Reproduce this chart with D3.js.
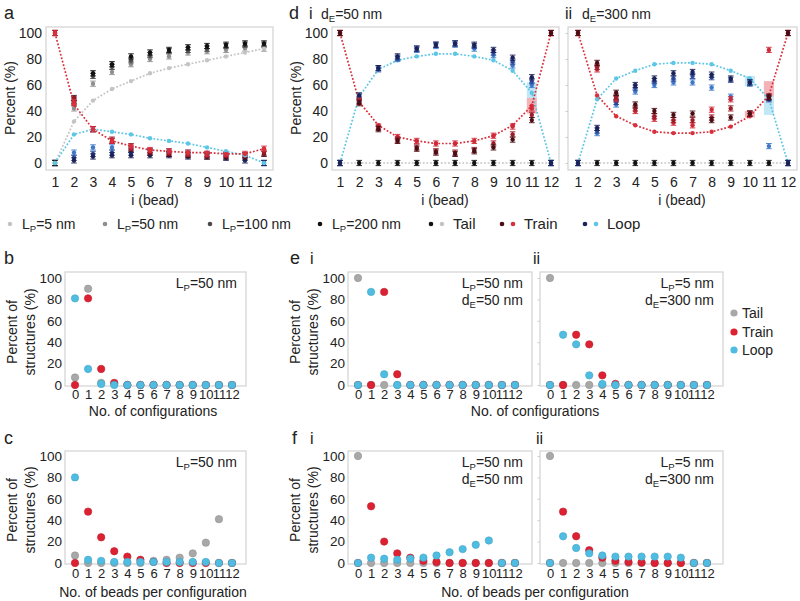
<!DOCTYPE html>
<html><head><meta charset="utf-8">
<script src="https://cdn.jsdelivr.net/npm/d3@7"></script>
<style>
body{margin:0;background:#fff;}
svg{font-family:"Liberation Sans",Arial,Helvetica,sans-serif;}
</style></head><body>
<svg id="c" width="800" height="601"></svg>
<script>
// ---------------- DATA ----------------
const beads = [1,2,3,4,5,6,7,8,9,10,11,12];
const configs = [0,1,2,3,4,5,6,7,8,9,10,11,12];
const yTicks = [0,20,40,60,80,100];

// panel a (LP=5 nm shown as dotted lines, other LP as markers)
const aTail5   = [0,32,48,57,63,69,73,76,79,82,85,88];
const aTrain5  = [100,45,26,17,13,10,9,8,8,7,7,11];
const aLoop5   = [0,22,26,24,22,19,17,15,12,9,6,0];
const aTail50  = [0,42,61,70,76,80,82,85,86,87,88,88];
const aTail100 = [0,46,67,74,79,83,86,87,88,90,91,91];
const aTail200 = [0,48,69,76,82,85,87,89,90,91,92,92];
const aTrain50  = [100,47,26,17,12,10,9,8,7,7,7,11];
const aTrain100 = [100,49,26,18,13,9,8,7,6,6,6,8];
const aTrain200 = [100,50,26,17,11,8,7,6,5,5,5,7];
const aLoop50  = [0,8,12,12,10,9,9,8,7,6,6,0];
const aLoop100 = [0,4,7,8,8,8,7,6,6,5,4,0];
const aLoop200 = [0,2,5,6,6,6,6,5,5,4,2,0];

// panel d i (dE=50 nm)
const diTail5   = [0,0,0,0,0,0,0,0,0,0,0,0];
const diTrain5  = [100,47,29,20,17,15,15,17,21,29,44,100];
const diLoop5   = [0,51,72,79,82,84,84,82,79,71,54,0];
const diTailLP  = [0,0,0,0,0,0,0,0,0,0,0,0];
const diTrain50  = [100,48,28,20,17,15,15,17,21,28,42,100];
const diTrain100 = [100,47,27,18,12,9,8,10,15,22,37,100];
const diTrain200 = [100,46,26,17,11,8,7,9,12,18,33,100];
const diLoop50  = [0,49,72,80,87,90,91,88,83,75,60,0];
const diLoop100 = [0,51,73,81,88,91,92,90,85,78,63,0];
const diLoop200 = [0,52,73,82,88,91,92,91,87,81,66,0];
const diBoxX = [11,11];
const diBoxLo = [50,38];
const diBoxHi = [62,50];
const diBoxKind = ["loop","train"];

// panel d ii (dE=300 nm)
const diiTail5   = [0,0,0,0,0,0,0,0,0,0,0,0];
const diiTrain5  = [100,52,36,29,24,23,23,24,28,36,52,100];
const diiLoop5   = [0,49,65,71,76,77,77,76,71,65,49,0];
const diiTrain50  = [100,72,49,40,34,31,29,41,49,38,87,100];
const diiTrain100 = [100,74,51,42,36,33,33,35,42,38,51,100];
const diiTrain200 = [100,77,54,45,40,37,38,33,35,38,51,100];
const diiLoop50  = [0,23,45,55,60,62,62,58,51,61,13,0];
const diiLoop100 = [0,25,47,58,63,65,67,66,64,62,49,0];
const diiLoop200 = [0,27,50,60,65,69,70,68,65,62,50,0];
const diiBoxX = [10,10,11,11];
const diiBoxLo = [59,35,51,37];
const diiBoxHi = [67,40,63,51];
const diiBoxKind = ["loop","train","train","loop"];

// panel b (LP=50 nm, no. of configurations)
const bTail  = [7,90,2,1,0,0,0,0,0,0,0,0,0];
const bTrain = [0,81,15,2,0,0,0,0,0,0,0,0,0];
const bLoop  = [81,15,1,0,0,0,0,0,0,0,0,0,0];
// panel c (LP=50 nm, beads per configuration)
const cTail  = [7,0,0,0,0,0,2,3,5,9,19,41,0];
const cTrain = [0,48,24,11,6,3,1,0,0,0,0,0,0];
const cLoop  = [80,3,2,1,1,1,1,1,1,1,1,0,0];
// panel e i / e ii
const eiTail  = [100,0,0,0,0,0,0,0,0,0,0,0,0];
const eiTrain = [0,0,87,10,0,0,0,0,0,0,0,0,0];
const eiLoop  = [0,87,10,0,0,0,0,0,0,0,0,0,0];
const eiiTail  = [100,0,0,0,0,0,0,0,0,0,0,0,0];
const eiiTrain = [0,0,47,38,9,1,0,0,0,0,0,0,0];
const eiiLoop  = [0,47,38,9,1,0,0,0,0,0,0,0,0];
// panel f i / f ii
const fiTail  = [100,0,0,0,0,0,0,0,0,0,0,0,0];
const fiTrain = [0,53,20,9,5,2,1,0,0,0,0,0,0];
const fiLoop  = [0,5,4,3,4,5,7,10,13,17,21,0,0];
const fiiTail  = [100,0,0,0,0,0,0,0,0,0,0,0,0];
const fiiTrain = [0,48,25,12,5,2,1,0.5,0,0,0,0,0];
const fiiLoop  = [0,25,14,9,7,6,6,6,6,6,5,0,0];

const legendLP = ["5","50","100","200"];
const legendKinds = ["Tail","Train","Loop"];

// ---------------- STYLE ----------------
const C = {
  tail5:"#c4c4c4", tail50:"#8f8f8f", tail100:"#4a4a4a", tail200:"#111111",
  train5:"#d8303c", train50:"#d02a3a", train100:"#9a1d2a", train200:"#4a0d14",
  loop5:"#5cc6e6", loop50:"#3f78c8", loop100:"#2c4596", loop200:"#1b2258",
  tail:"#a8a8a8", train:"#dc2232", loop:"#4fbde2", frame:"#d6d6d6"
};
const svg = d3.select("#c");

function frame(x0,y0,x1,y1){
  svg.append("rect").attr("x",x0).attr("y",y0).attr("width",x1-x0).attr("height",y1-y0)
    .attr("fill","none").attr("stroke",C.frame).attr("stroke-width",1.3);
}
function txt(x,y,s,size,anchor,extra){
  const t = svg.append("text").attr("x",x).attr("y",y).attr("font-size",size)
    .attr("text-anchor",anchor||"start").attr("fill","#222").text(s);
  if(extra) extra(t);
  return t;
}
// text with a subscript letter: pre + sub + post
function subText(x,y,pre,sub,post,size,anchor){
  const t = svg.append("text").attr("x",x).attr("y",y).attr("font-size",size)
    .attr("text-anchor",anchor||"start").attr("fill","#222");
  t.append("tspan").text(pre);
  t.append("tspan").attr("font-size",size*0.68).attr("dy",size*0.2).text(sub);
  t.append("tspan").attr("dy",-size*0.2).text(post);
  return t;
}
function xAxis(scale,vals,yPos,pad,size){
  const g = svg.append("g").attr("transform",`translate(0,${yPos})`)
    .call(d3.axisBottom(scale).tickValues(vals).tickSize(0).tickPadding(pad).tickFormat(d3.format("d")));
  g.select(".domain").remove();
  g.selectAll("text").attr("font-size",size).attr("fill","#222").attr("font-family",null);
}
function yAxis(scale,xPos,pad,size,showLabels){
  const g = svg.append("g").attr("transform",`translate(${xPos},0)`)
    .call(d3.axisLeft(scale).tickValues(yTicks).tickSize(showLabels?0:2.5).tickPadding(pad));
  g.select(".domain").remove();
  g.selectAll("line").attr("stroke","#ccc");
  if(showLabels) g.selectAll("text").attr("font-size",size).attr("fill","#222").attr("font-family",null);
  else g.selectAll("text").remove();
}
function dottedSeries(x,y,xs,vals,color,r){
  const line = d3.line().x((d,i)=>x(xs[i])).y(d=>y(d));
  svg.append("path").datum(vals).attr("d",line).attr("fill","none").attr("stroke",color)
    .attr("stroke-width",1.7).attr("stroke-dasharray","1.8,1.8");
  svg.append("g").selectAll("circle").data(vals).enter().append("circle")
    .attr("cx",(d,i)=>x(xs[i])).attr("cy",d=>y(d)).attr("r",r||2.2).attr("fill",color);
}
function markerSeries(x,y,xs,vals,color){
  const g = svg.append("g").selectAll("g").data(vals).enter().append("g")
    .attr("transform",(d,i)=>`translate(${x(xs[i])},${y(d)})`);
  g.append("line").attr("x1",0).attr("x2",0).attr("y1",-2.6).attr("y2",2.6).attr("stroke",color).attr("stroke-width",0.9);
  g.append("line").attr("x1",-2.8).attr("x2",2.8).attr("y1",-2.6).attr("y2",-2.6).attr("stroke",color).attr("stroke-width",0.9);
  g.append("line").attr("x1",-2.8).attr("x2",2.8).attr("y1",2.6).attr("y2",2.6).attr("stroke",color).attr("stroke-width",0.9);
  g.append("circle").attr("r",2.2).attr("fill",color);
}
function dotSeries(x,y,xs,vals,color){
  svg.append("g").selectAll("circle").data(vals).enter().append("circle")
    .attr("cx",(d,i)=>x(xs[i])).attr("cy",d=>y(d)).attr("r",3.7).attr("fill",color)
    .attr("stroke",d3.color(color).darker(0.4)).attr("stroke-width",0.6);
}
function boxes(x,y,bx,lo,hi,kind){
  bx.forEach((v,i)=>{
    svg.append("rect").attr("x",x(v)-5).attr("y",y(hi[i])).attr("width",10)
      .attr("height",y(lo[i])-y(hi[i]))
      .attr("fill",kind[i]==="loop"?C.loop:C.train).attr("opacity",0.35);
  });
}

// ---------------- PANEL a ----------------
{
  const x = d3.scaleLinear().domain([1,12]).range([55,264]);
  const y = d3.scaleLinear().domain([0,100]).range([163,33]);
  frame(46,27,273,170);
  xAxis(x,beads,170,7,14);
  yAxis(y,46,4,14,true);
  txt(4,19,"a",18);
  txt(155,205,"i (bead)",14,"middle");
  txt(0,0,"Percent (%)",14,"middle",t=>t.attr("transform","translate(15,98) rotate(-90)"));
  markerSeries(x,y,beads,aLoop50,C.loop50);
  markerSeries(x,y,beads,aLoop100,C.loop100);
  markerSeries(x,y,beads,aLoop200,C.loop200);
  markerSeries(x,y,beads,aTail50,C.tail50);
  markerSeries(x,y,beads,aTail100,C.tail100);
  markerSeries(x,y,beads,aTail200,C.tail200);
  markerSeries(x,y,beads,aTrain200,C.train200);
  markerSeries(x,y,beads,aTrain100,C.train100);
  markerSeries(x,y,beads,aTrain50,C.train50);
  dottedSeries(x,y,beads,aTail5,C.tail5);
  dottedSeries(x,y,beads,aLoop5,C.loop5);
  dottedSeries(x,y,beads,aTrain5,C.train5);
}
// ---------------- PANEL d i ----------------
{
  const x = d3.scaleLinear().domain([1,12]).range([340,551]);
  const y = d3.scaleLinear().domain([0,100]).range([163,33]);
  frame(332,27,559,170);
  xAxis(x,beads,170,7,14);
  yAxis(y,332,4,14,true);
  txt(289,19,"d",18); txt(309,19,"i",16);
  subText(321,19,"d","E","=50 nm",14);
  txt(445,205,"i (bead)",14,"middle");
  txt(0,0,"Percent (%)",14,"middle",t=>t.attr("transform","translate(301,98) rotate(-90)"));
  boxes(x,y,diBoxX,diBoxLo,diBoxHi,diBoxKind);
  dottedSeries(x,y,beads,diTail5,C.tail5);
  dottedSeries(x,y,beads,diLoop5,C.loop5);
  dottedSeries(x,y,beads,diTrain5,C.train5);
  markerSeries(x,y,beads,diTailLP,C.tail200);
  markerSeries(x,y,beads,diLoop50,C.loop50);
  markerSeries(x,y,beads,diLoop100,C.loop100);
  markerSeries(x,y,beads,diLoop200,C.loop200);
  markerSeries(x,y,beads,diTrain50,C.train50);
  markerSeries(x,y,beads,diTrain100,C.train100);
  markerSeries(x,y,beads,diTrain200,C.train200);
}
// ---------------- PANEL d ii ----------------
{
  const x = d3.scaleLinear().domain([1,12]).range([578,788]);
  const y = d3.scaleLinear().domain([0,100]).range([163,33]);
  frame(568,27,797,170);
  xAxis(x,beads,170,7,14);
  yAxis(y,568,2,14,false);
  txt(565,19,"ii",16);
  subText(582,19,"d","E","=300 nm",14);
  txt(682,205,"i (bead)",14,"middle");
  boxes(x,y,diiBoxX,diiBoxLo,diiBoxHi,diiBoxKind);
  dottedSeries(x,y,beads,diiTail5,C.tail5);
  dottedSeries(x,y,beads,diiLoop5,C.loop5);
  dottedSeries(x,y,beads,diiTrain5,C.train5);
  markerSeries(x,y,beads,diiTail5,C.tail200);
  markerSeries(x,y,beads,diiLoop50,C.loop50);
  markerSeries(x,y,beads,diiLoop100,C.loop100);
  markerSeries(x,y,beads,diiLoop200,C.loop200);
  markerSeries(x,y,beads,diiTrain50,C.train50);
  markerSeries(x,y,beads,diiTrain100,C.train100);
  markerSeries(x,y,beads,diiTrain200,C.train200);
}
// ---------------- LEGEND (top) ----------------
{
  const ly = 224;
  const lpCol = [C.tail5,C.tail50,C.tail100,C.tail200];
  const lpX = [10,105,210,320];
  legendLP.forEach((v,i)=>{
    svg.append("circle").attr("cx",lpX[i]).attr("cy",ly).attr("r",2.3).attr("fill",lpCol[i]);
    subText(lpX[i]+12,ly+5,"L","P","="+v+" nm",14);
  });
  const kX = [431,502,585];
  const kDark = [C.tail200,C.train200,C.loop200];
  const kLight = [C.tail5,C.train5,C.loop5];
  legendKinds.forEach((k,i)=>{
    svg.append("circle").attr("cx",kX[i]).attr("cy",ly).attr("r",2.3).attr("fill",kDark[i]);
    svg.append("circle").attr("cx",kX[i]+11).attr("cy",ly).attr("r",2.3).attr("fill",kLight[i]);
    txt(kX[i]+22,ly+5,k,15);
  });
}
// ---------------- small panels ----------------
function smallPanel(o){
  const x = d3.scaleLinear().domain([0,12]).range([o.fx0+10,o.fx0+167]);
  const y = d3.scaleLinear().domain([0,100]).range([o.fy1-1,o.fy1-108]);
  frame(o.fx0,o.fy0,o.fx1,o.fy1);
  xAxis(x,configs,o.fy1,o.xpad,13);
  yAxis(y,o.fx0,3,13.5,o.ylabels);
  dotSeries(x,y,configs,o.tail,C.tail);
  dotSeries(x,y,configs,o.train,C.train);
  dotSeries(x,y,configs,o.loop,C.loop);
  o.notes.forEach((n,i)=>subText(o.fx1-9,o.fy0+16+i*17,n[0],n[1],n[2],14,"end"));
  if(o.ylabels){
    txt(0,0,"Percent of",14,"middle",t=>t.attr("transform",`translate(${o.fx0-48},${o.fy1-54}) rotate(-90)`));
    txt(0,0,"structures (%)",14,"middle",t=>t.attr("transform",`translate(${o.fx0-30},${o.fy1-54}) rotate(-90)`));
  }
}
smallPanel({fx0:65,fy0:272,fx1:246,fy1:386,xpad:4,ylabels:true,tail:bTail,train:bTrain,loop:bLoop,
  notes:[["L","P","=50 nm"]]});
smallPanel({fx0:65,fy0:451,fx1:246,fy1:564,xpad:5,ylabels:true,tail:cTail,train:cTrain,loop:cLoop,
  notes:[["L","P","=50 nm"]]});
smallPanel({fx0:348,fy0:272,fx1:532,fy1:386,xpad:4,ylabels:true,tail:eiTail,train:eiTrain,loop:eiLoop,
  notes:[["L","P","=50 nm"],["d","E","=50 nm"]]});
smallPanel({fx0:540,fy0:272,fx1:723,fy1:386,xpad:4,ylabels:false,tail:eiiTail,train:eiiTrain,loop:eiiLoop,
  notes:[["L","P","=5 nm"],["d","E","=300 nm"]]});
smallPanel({fx0:348,fy0:451,fx1:532,fy1:564,xpad:5,ylabels:true,tail:fiTail,train:fiTrain,loop:fiLoop,
  notes:[["L","P","=50 nm"],["d","E","=50 nm"]]});
smallPanel({fx0:540,fy0:451,fx1:723,fy1:564,xpad:5,ylabels:false,tail:fiiTail,train:fiiTrain,loop:fiiLoop,
  notes:[["L","P","=5 nm"],["d","E","=300 nm"]]});

txt(4,264,"b",18); txt(4,444,"c",18);
txt(290,264,"e",18); txt(310,264,"i",16); txt(533,264,"ii",16);
txt(292,444,"f",18); txt(310,444,"i",16); txt(536,444,"ii",16);
txt(153,416,"No. of configurations",14,"middle");
txt(153,597,"No. of beads per configuration",14,"middle");
txt(535,416,"No. of configurations",14,"middle");
txt(535,597,"No. of beads per configuration",14,"middle");

// legend for b-f
{
  const kc = [C.tail,C.train,C.loop];
  const ky = [313,332,350];
  legendKinds.forEach((k,i)=>{
    svg.append("circle").attr("cx",734).attr("cy",ky[i]).attr("r",3.6).attr("fill",kc[i]);
    txt(742,ky[i]+5,k,14);
  });
}
</script>
</body></html>
